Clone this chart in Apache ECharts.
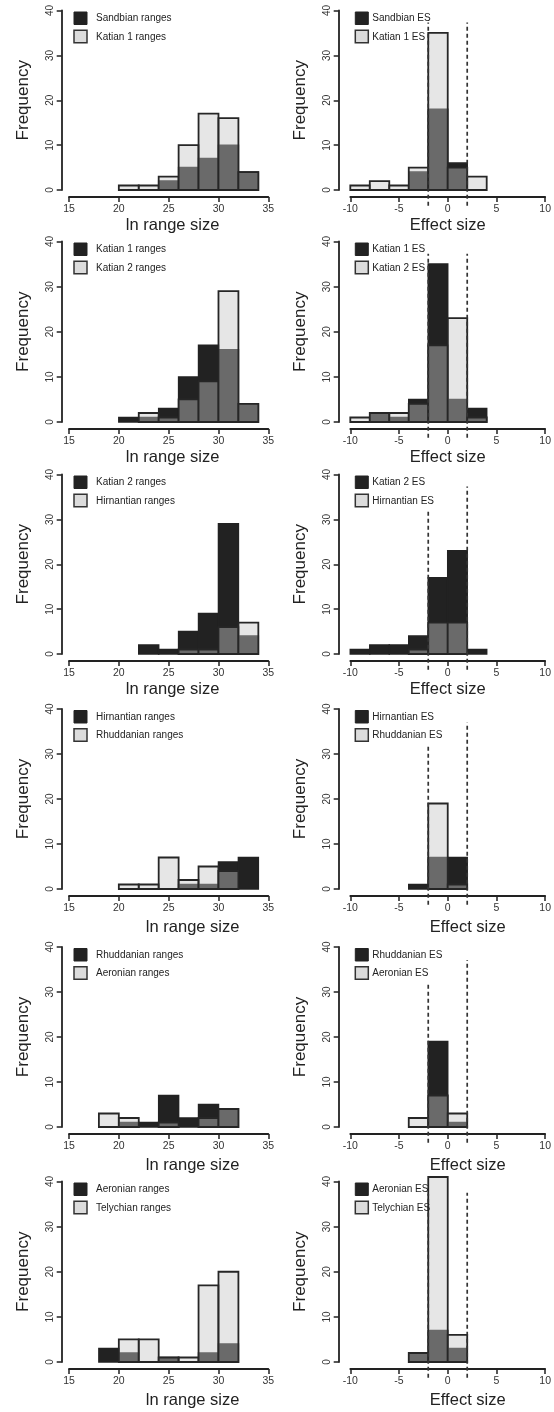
<!DOCTYPE html>
<html><head><meta charset="utf-8">
<script src="https://cdn.jsdelivr.net/npm/echarts@6/dist/echarts.min.js"></script>
<style>html,body{margin:0;padding:0;background:#fff}#c{width:554px;height:1412px}</style>
</head><body><div id="c"></div>
<script>
// ---- data ----
const stageNames = ['Sandbian', 'Katian 1', 'Katian 2', 'Hirnantian', 'Rhuddanian', 'Aeronian', 'Telychian'];
const rangeBinStarts = [18, 20, 22, 24, 26, 28, 30, 32];
const esBinStarts = [-10, -8, -6, -4, -2, 0, 2];
const binWidth = 2;
const rangeAxis = [15, 35, 5];
const esAxis = [-10, 10, 5];
const freqAxis = [0, 40, 10];
const esCutoffs = [-2, 2];

const sandbianRanges   = [0, 0, 0, 2, 5, 7, 10, 4];
const katian1Ranges    = [0, 1, 1, 3, 10, 17, 16, 4];
const katian2Ranges    = [0, 0, 2, 1, 5, 9, 29, 4];
const hirnantianRanges = [0, 0, 0, 0, 1, 1, 6, 7];
const rhuddanianRanges = [0, 1, 1, 7, 2, 5, 4, 0];
const aeronianRanges   = [3, 2, 0, 1, 0, 2, 4, 0];
const telychianRanges  = [0, 5, 5, 1, 1, 17, 20, 0];

const sandbianES     = [0, 0, 0, 4, 18, 6, 0];
const katian1ES      = [1, 2, 1, 5, 35, 5, 3];
const katian1ESrow2  = [0, 2, 1, 5, 35, 5, 3];
const katian2ES      = [1, 2, 2, 4, 17, 23, 1];
const hirnantianES   = [0, 0, 0, 1, 7, 7, 0];
const rhuddanianES   = [0, 0, 0, 0, 19, 1, 0];
const aeronianES     = [0, 0, 0, 2, 7, 3, 0];
const telychianES    = [0, 0, 0, 2, 41, 6, 0];

// dashed cutoff segment extents (frequency units)
const dashBottom = -3.5;
const dashTopNeg = [37.3, 37.3, 31.8, 32.2, 32.2, 37.3];
const dashTopPos = [37.3, 37.3, 37.3, 37.0, 37.1, 37.5];

// ---- layout / style ----
const font = "'Liberation Sans', Arial, Helvetica, sans-serif";
const rowTop = [10.5, 241.5, 474.5, 709, 947, 1181.5];
const rowBottom = [190, 422, 654, 889, 1127, 1362];
const colLeft = [69, 350.3];
const colWidth = [199.3, 198.4];
const yAxisOffset = [7.3, 11.6];
const DARK = '#222222';
const LIGHT_FILL = 'rgba(199,199,199,0.443)';

const rangeRows = [sandbianRanges, katian1Ranges, katian2Ranges, hirnantianRanges, rhuddanianRanges, aeronianRanges, telychianRanges];
const esRows = [sandbianES, katian1ES, katian2ES, hirnantianES, rhuddanianES, aeronianES, telychianES];

function bins(starts, vals) {
  return starts.map((s, i) => [s, s + binWidth, vals[i]]);
}
function rectRender(fill, stroke, lw) {
  return function (params, api) {
    const h = api.value(2);
    if (!h) return null;
    const p0 = api.coord([api.value(0), 0]);
    const p1 = api.coord([api.value(1), h]);
    return {
      type: 'rect',
      shape: { x: p0[0], y: p1[1], width: p1[0] - p0[0], height: p0[1] - p1[1] },
      style: { fill: fill, stroke: stroke, lineWidth: lw }
    };
  };
}

const grids = [], xAxes = [], yAxes = [], series = [], graphics = [];

for (let r = 0; r < 6; r++) {
  for (let c = 0; c < 2; c++) {
    const k = grids.length;
    const isES = c === 1;
    const ax = isES ? esAxis : rangeAxis;
    const lower = r >= 3;
    grids.push({ left: colLeft[c], top: rowTop[r], width: colWidth[c], height: rowBottom[r] - rowTop[r] });
    const shift = (c === 0 ? 4 : 0) + (lower ? 20 : 0);
    xAxes.push({
      type: 'value', gridIndex: k, min: ax[0], max: ax[1], interval: ax[2], offset: 7,
      axisLine: { show: true, onZero: false, lineStyle: { color: DARK, width: 1.8 } },
      axisTick: { show: true, length: 5, lineStyle: { color: DARK, width: 1.5 } },
      axisLabel: { fontSize: 10.5, color: '#333', margin: 7, fontFamily: font },
      splitLine: { show: false },
      name: isES ? 'Effect size' : 'ln range size',
      nameLocation: 'middle', nameGap: lower ? 23 : 20,
      nameTextStyle: { fontSize: 16.5, color: DARK, fontFamily: font, padding: [0, 0, 0, shift * 2] }
    });
    yAxes.push({
      type: 'value', gridIndex: k, min: freqAxis[0], max: freqAxis[1], interval: freqAxis[2], offset: yAxisOffset[c],
      axisLine: { show: true, onZero: false, lineStyle: { color: DARK, width: 1.8 } },
      axisTick: { show: true, length: 5, lineStyle: { color: DARK, width: 1.5 } },
      axisLabel: { rotate: 90, fontSize: 10, color: '#333', margin: 6, fontFamily: font },
      splitLine: { show: false },
      name: 'Frequency', nameLocation: 'middle', nameGap: 30,
      nameTextStyle: { fontSize: 17, color: DARK, fontFamily: font }
    });

    const starts = isES ? esBinStarts : rangeBinStarts;
    let darkVals = isES ? esRows[r] : rangeRows[r];
    if (isES && r === 1) darkVals = katian1ESrow2;
    const lightVals = isES ? esRows[r + 1] : rangeRows[r + 1];
    const darkName = stageNames[r] + (isES ? ' ES' : ' ranges');
    const lightName = stageNames[r + 1] + (isES ? ' ES' : ' ranges');

    series.push({
      type: 'custom', name: darkName, xAxisIndex: k, yAxisIndex: k,
      data: bins(starts, darkVals), encode: { x: [0, 1], y: 2 },
      renderItem: rectRender(DARK, DARK, 1.5), clip: false, z: 2
    });
    series.push({
      type: 'custom', name: lightName, xAxisIndex: k, yAxisIndex: k,
      data: bins(starts, lightVals), encode: { x: [0, 1], y: 2 },
      renderItem: rectRender(LIGHT_FILL, '#262626', 1.8), clip: false, z: 3
    });
    if (isES) {
      const tops = [dashTopNeg[r], dashTopPos[r]];
      esCutoffs.forEach((cx, i) => {
        series.push({
          type: 'line', xAxisIndex: k, yAxisIndex: k, clip: false, symbol: 'none', silent: true, z: 4,
          data: [[cx, dashBottom], [cx, tops[i]]],
          lineStyle: { color: '#333', width: 1.7, type: [4, 3] }
        });
      });
    }

    // legend (drawn as graphics: a filled square + label per series)
    const sqX = colLeft[c] + 5;
    const txX = colLeft[c] + (isES ? 22 : 27);
    const t = rowTop[r];
    graphics.push({ type: 'rect', shape: { x: sqX, y: t + 1.5, width: 13, height: 12.5 }, style: { fill: DARK, stroke: DARK, lineWidth: 1 }, z: 10 });
    graphics.push({ type: 'rect', shape: { x: sqX, y: t + 19.8, width: 13, height: 12.5 }, style: { fill: '#dcdcdc', stroke: '#333', lineWidth: 1.5 }, z: 10 });
    graphics.push({ type: 'text', x: txX, y: t + 8, style: { text: darkName, fontSize: 10, fill: DARK, fontFamily: font, verticalAlign: 'middle', align: 'left' }, z: 10 });
    graphics.push({ type: 'text', x: txX, y: t + 26.3, style: { text: lightName, fontSize: 10, fill: DARK, fontFamily: font, verticalAlign: 'middle', align: 'left' }, z: 10 });
  }
}

const chart = echarts.init(document.getElementById('c'), null, { renderer: 'canvas', width: 554, height: 1412 });
chart.setOption({
  animation: false,
  backgroundColor: '#ffffff',
  grid: grids, xAxis: xAxes, yAxis: yAxes, series: series, graphic: graphics
});
</script></body></html>
